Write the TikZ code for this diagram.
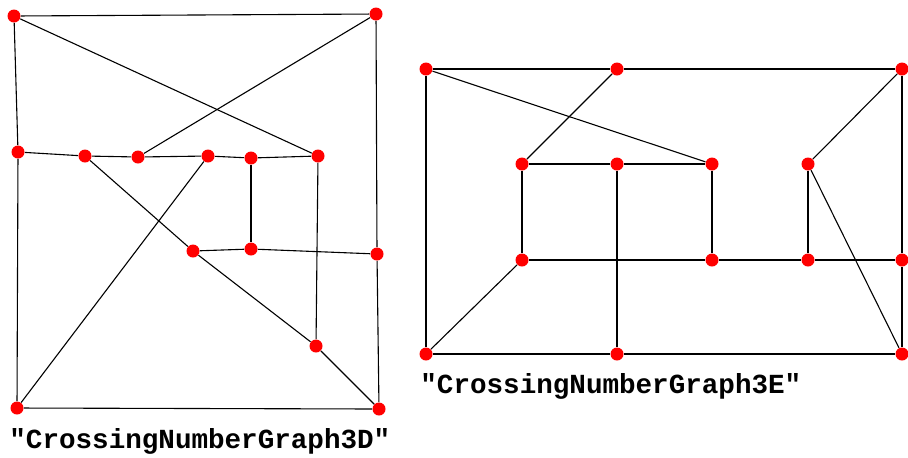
\documentclass[tikz,border=0pt]{standalone}
\usepackage{fontspec}
\newfontfamily\graphfont{Liberation Mono}
\usepackage{tikz}

\tikzset{
  vtx/.style={circle, fill=red, inner sep=0pt, minimum size=6.5pt},
  edge/.style={line width=0.55pt},
  gname/.style={anchor=base west, inner sep=0pt, font=\graphfont\bfseries\fontsize{13.8pt}{16pt}\selectfont}
}

\begin{document}
\begin{tikzpicture}[x=0.5pt, y=-0.5pt]

        \useasboundingbox (0, 0) rectangle (908, 457);

        % left graph
        \node[vtx] (A) at (14, 16) {};
        \node[vtx] (B) at (376, 14) {};
        \node[vtx] (C) at (18, 152) {};
        \node[vtx] (D) at (85, 156) {};
        \node[vtx] (E) at (138, 157) {};
        \node[vtx] (F) at (208, 156) {};
        \node[vtx] (G) at (251, 158) {};
        \node[vtx] (H) at (318, 156) {};
        \node[vtx] (I) at (193, 251) {};
        \node[vtx] (J) at (251, 249) {};
        \node[vtx] (K) at (377, 254) {};
        \node[vtx] (L) at (316, 346) {};
        \node[vtx] (M) at (17, 408) {};
        \node[vtx] (N) at (379, 409) {};

        \draw[edge] (A) -- (B);
        \draw[edge] (A) -- (C);
        \draw[edge] (A) -- (H);
        \draw[edge] (B) -- (E);
        \draw[edge] (B) -- (K);
        \draw[edge] (C) -- (D);
        \draw[edge] (D) -- (E);
        \draw[edge] (E) -- (F);
        \draw[edge] (F) -- (G);
        \draw[edge] (G) -- (H);
        \draw[edge] (C) -- (M);
        \draw[edge] (D) -- (I);
        \draw[edge] (I) -- (L);
        \draw[edge] (I) -- (J);
        \draw[edge] (G) -- (J);
        \draw[edge] (J) -- (K);
        \draw[edge] (F) -- (M);
        \draw[edge] (H) -- (L);
        \draw[edge] (L) -- (N);
        \draw[edge] (M) -- (N);
        \draw[edge] (K) -- (N);

        % right graph
        \node[vtx] (a) at (426, 69) {};
        \node[vtx] (b) at (617, 69) {};
        \node[vtx] (c) at (902, 69) {};
        \node[vtx] (d) at (522, 164) {};
        \node[vtx] (e) at (617, 164) {};
        \node[vtx] (f) at (712, 164) {};
        \node[vtx] (g) at (808, 164) {};
        \node[vtx] (h) at (522, 260) {};
        \node[vtx] (i) at (712, 260) {};
        \node[vtx] (j) at (808, 260) {};
        \node[vtx] (k) at (902, 260) {};
        \node[vtx] (l) at (426, 354) {};
        \node[vtx] (m) at (617, 354) {};
        \node[vtx] (n) at (902, 354) {};

        \draw[edge] (a) -- (b);
        \draw[edge] (b) -- (c);
        \draw[edge] (a) -- (l);
        \draw[edge] (a) -- (f);
        \draw[edge] (b) -- (d);
        \draw[edge] (c) -- (g);
        \draw[edge] (c) -- (k);
        \draw[edge] (d) -- (e);
        \draw[edge] (e) -- (f);
        \draw[edge] (d) -- (h);
        \draw[edge] (e) -- (m);
        \draw[edge] (f) -- (i);
        \draw[edge] (g) -- (j);
        \draw[edge] (g) -- (n);
        \draw[edge] (h) -- (i);
        \draw[edge] (i) -- (j);
        \draw[edge] (j) -- (k);
        \draw[edge] (h) -- (l);
        \draw[edge] (l) -- (m);
        \draw[edge] (m) -- (n);
        \draw[edge] (k) -- (n);

        \node[gname] (nameD) at (9, 448) {"CrossingNumberGraph3D"};
        \node[gname] (nameE) at (420, 393) {"CrossingNumberGraph3E"};

      \end{tikzpicture}
\end{document}
